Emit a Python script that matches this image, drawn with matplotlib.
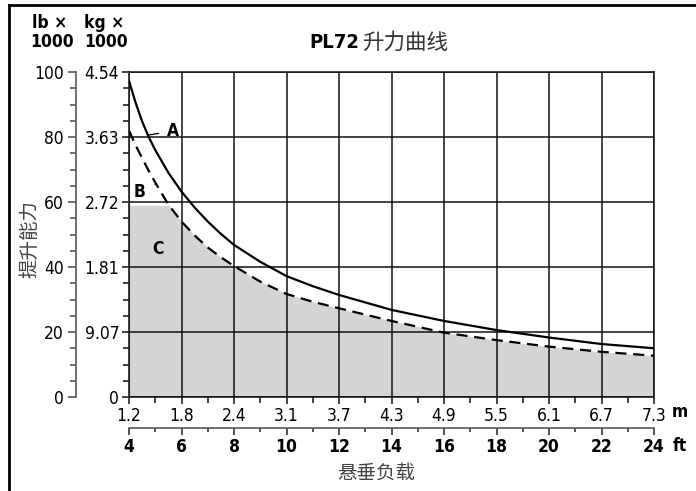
import matplotlib
matplotlib.use("Agg")
import matplotlib.pyplot as plt
from matplotlib import font_manager
from matplotlib.lines import Line2D

# data (load in lb x 1000 vs overhang in ft)
ft = [4, 4.25, 4.5, 4.75, 5, 5.5, 6, 6.5, 7, 7.5, 8, 9, 10, 11, 12, 14, 16, 18, 20, 22, 24]
curve_a = [97.3, 90.6, 84.8, 80.0, 76.0, 69.0, 63.2, 58.3, 54.0, 50.2, 46.8, 41.6, 37.2,
           34.1, 31.4, 26.8, 23.4, 20.6, 18.3, 16.3, 15.0]
curve_b = [82.0, 77.5, 73.5, 69.6, 66.0, 59.2, 54.0, 49.7, 46.0, 43.0, 40.3, 35.5, 31.7,
           29.3, 27.3, 23.4, 19.8, 17.5, 15.5, 13.9, 12.7]
zone_c_ft = [4, 5.42, 5.5, 6, 6.5, 7, 7.5, 8, 9, 10, 11, 12, 14, 16, 18, 20, 22, 24]
zone_c = [59, 59, 59.2, 54.0, 49.7, 46.0, 43.0, 40.3, 35.5, 31.7, 29.3, 27.3, 23.4, 19.8,
          17.5, 15.5, 13.9, 12.7]

ft_ticks = [4, 6, 8, 10, 12, 14, 16, 18, 20, 22, 24]
m_labels = ['1.2', '1.8', '2.4', '3.1', '3.7', '4.3', '4.9', '5.5', '6.1', '6.7', '7.3']
lb_ticks = [0, 20, 40, 60, 80, 100]
kg_labels = ['0', '9.07', '1.81', '2.72', '3.63', '4.54']

# pick a narrow face if the system has one
narrow = None
for f in font_manager.fontManager.ttflist:
    n = f.name.lower()
    if 'narrow' in n or 'condensed' in n or f.stretch in ('condensed', 'semi-condensed', 600, 700):
        narrow = f.name
        break
if narrow is None:
    narrow = 'Liberation Sans'
NARROW = [narrow, 'DejaVu Sans']
CJK = ['Noto Sans CJK SC', 'DejaVu Sans']
plt.rcParams['font.family'] = NARROW
plt.rcParams['font.stretch'] = 'condensed'

fs = 12.5 if narrow != 'Liberation Sans' else 11.5

fig = plt.figure(figsize=(6.96, 4.91), dpi=100)
W, H = 696, 491
ax = fig.add_axes([129 / W, 1 - 397 / H, (654 - 129) / W, (397 - 72) / H])

ax.fill_between(zone_c_ft, zone_c, 0, color='#d4d4d6', lw=0, zorder=1)
ax.set_xlim(4, 24)
ax.set_ylim(0, 100)
ax.set_xticks(ft_ticks)
ax.set_xticklabels(m_labels)
ax.set_xticks(range(5, 24, 2), minor=True)
ax.set_yticks(lb_ticks)
ax.set_yticklabels(kg_labels)
ax.set_yticks(range(5, 100, 5), minor=True)
ax.grid(True, which='major', color='#111111', lw=1.1, zorder=2)
ax.set_axisbelow(False)
for s in ax.spines.values():
    s.set_color('#222222')
    s.set_linewidth(1.2)
ax.tick_params(axis='both', which='both', direction='out', color='#222222', width=1.2)
ax.tick_params(axis='both', which='major', length=5, labelsize=fs, pad=2)
ax.tick_params(axis='both', which='minor', length=4)

ax.plot(ft, curve_a, color='black', lw=1.6, zorder=4)
ax.plot(ft, curve_b, color='black', lw=1.6, ls=(0, (5, 3)), zorder=4)

# curve labels
ax.annotate('A', xy=(4.74, 80.6), xytext=(5.68, 81.8), fontsize=fs, fontweight='bold',
            va='center', ha='center', arrowprops=dict(arrowstyle='-', color='black', lw=0.9,
                                                     shrinkB=0, shrinkA=4), zorder=5)
ax.annotate('B', xy=(5.02, 65.6), xytext=(4.42, 63.0), fontsize=fs, fontweight='bold',
            va='center', ha='center', arrowprops=dict(arrowstyle='-', color='black', lw=0.8,
                                                     shrinkB=0, shrinkA=5), zorder=5)
ax.text(5.1, 45.5, 'C', fontsize=fs, fontweight='bold', va='center', ha='center', zorder=5)

# lb axis further left
lb = ax.secondary_yaxis(-(129 - 76) / 525)
lb.set_yticks(lb_ticks)
lb.set_yticks(range(5, 100, 5), minor=True)
lb.spines['left'].set_color('#555555')
lb.spines['left'].set_linewidth(1.2)
lb.tick_params(which='both', direction='out', color='#555555', width=1.2)
lb.tick_params(which='major', length=6, labelsize=fs, pad=3)
lb.tick_params(which='minor', length=4)

# ft axis below
fta = ax.secondary_xaxis(-(428 - 397) / 325)
fta.set_xticks(ft_ticks)
fta.set_xticks(range(5, 24, 1), minor=True)
fta.spines['bottom'].set_color('#555555')
fta.spines['bottom'].set_linewidth(1.2)
fta.tick_params(which='both', direction='out', color='#333333', width=1.2)
fta.tick_params(which='major', length=5, labelsize=fs, pad=2)
fta.tick_params(which='minor', length=3)
for lab in fta.get_xticklabels():
    lab.set_fontweight('bold')

def px(x, y):
    return x / W, 1 - y / H

fig.text(*px(680, 412), 'm', fontsize=fs, fontweight='bold', ha='center', va='center')
fig.text(*px(680, 446), 'ft', fontsize=fs, fontweight='bold', ha='center', va='center')

fig.text(*px(50, 23), 'lb ×', fontsize=fs, fontweight='bold', ha='center', va='center')
fig.text(*px(52, 42), '1000', fontsize=fs, fontweight='bold', ha='center', va='center')
fig.text(*px(104, 23), 'kg ×', fontsize=fs, fontweight='bold', ha='center', va='center')
fig.text(*px(106, 42), '1000', fontsize=fs, fontweight='bold', ha='center', va='center')

fig.text(*px(359, 43), 'PL72', fontsize=14.5, fontweight='bold', ha='right', va='center')
fig.text(*px(362, 43), '升力曲线', fontsize=15.5, family=CJK, fontweight='light',
         color='#333333', ha='left', va='center')
fig.text(*px(30, 239), '提升能力', fontsize=14, family=CJK, fontweight='light',
         color='#444444', rotation=90, ha='center', va='center')
fig.text(*px(376, 473), '悬垂负载', fontsize=14, family=CJK, fontweight='light',
         color='#444444', ha='center', va='center')

# frame on top and left
fig.add_artist(Line2D([9 / W, 1], [1 - 5 / H, 1 - 5 / H], transform=fig.transFigure,
                      color='black', lw=2))
fig.add_artist(Line2D([9 / W, 9 / W], [0, 1 - 5 / H], transform=fig.transFigure,
                      color='black', lw=2))

fig.savefig('out.png', dpi=100)
